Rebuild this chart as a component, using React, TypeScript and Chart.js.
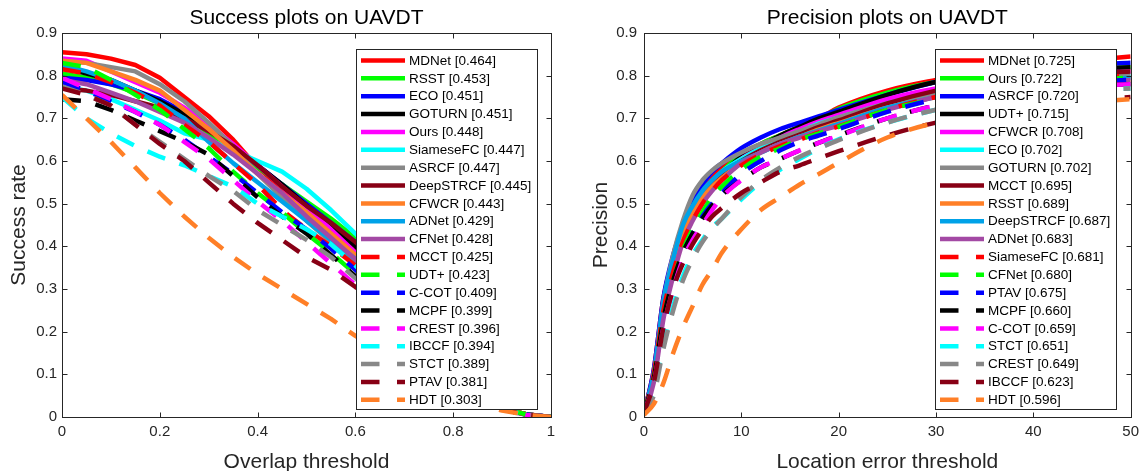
import React, { useEffect, useRef } from 'react';
import { Chart, registerables } from 'chart.js';

Chart.register(...registerables);
Chart.defaults.font.family = "'Liberation Sans', Arial, Helvetica, sans-serif";

// ---------------- Success plot data ----------------
const S_X = [0, 0.05, 0.1, 0.15, 0.2, 0.25, 0.3, 0.35, 0.4, 0.45, 0.5, 0.55, 0.6, 0.65, 0.7, 0.75, 0.8, 0.85, 0.9, 0.95, 1];
const S_XTICKS = [0, 0.2, 0.4, 0.6, 0.8, 1];
const S_XLABELS = ['0', '0.2', '0.4', '0.6', '0.8', '1'];
const YTICKS = [0, 0.1, 0.2, 0.3, 0.4, 0.5, 0.6, 0.7, 0.8, 0.9];
const YLABELS = ['0', '0.1', '0.2', '0.3', '0.4', '0.5', '0.6', '0.7', '0.8', '0.9'];

const S_NAMES = ['MDNet', 'RSST', 'ECO', 'GOTURN', 'Ours', 'SiameseFC', 'ASRCF', 'DeepSTRCF', 'CFWCR', 'ADNet', 'CFNet', 'MCCT', 'UDT+', 'C-COT', 'MCPF', 'CREST', 'IBCCF', 'STCT', 'PTAV', 'HDT'];
const S_SCORES = ['0.464', '0.453', '0.451', '0.451', '0.448', '0.447', '0.447', '0.445', '0.443', '0.429', '0.428', '0.425', '0.423', '0.409', '0.399', '0.396', '0.394', '0.389', '0.381', '0.303'];

const sMDNet = [0.855, 0.85, 0.84, 0.825, 0.795, 0.75, 0.705, 0.65, 0.585, 0.535, 0.485, 0.435, 0.39, 0.335, 0.275, 0.215, 0.155, 0.09, 0.02, 0.006, 0];
const sRSST = [0.805, 0.795, 0.78, 0.76, 0.735, 0.705, 0.665, 0.625, 0.585, 0.545, 0.505, 0.465, 0.42, 0.355, 0.295, 0.23, 0.16, 0.09, 0.02, 0.006, 0];
const sECO = [0.795, 0.79, 0.78, 0.765, 0.745, 0.715, 0.675, 0.635, 0.59, 0.545, 0.5, 0.455, 0.41, 0.355, 0.285, 0.22, 0.155, 0.085, 0.02, 0.006, 0];
const sGOTURN = [0.82, 0.805, 0.79, 0.765, 0.74, 0.71, 0.675, 0.635, 0.59, 0.545, 0.495, 0.445, 0.4, 0.345, 0.28, 0.215, 0.15, 0.085, 0.02, 0.006, 0];
const sOurs = [0.84, 0.835, 0.81, 0.785, 0.76, 0.725, 0.685, 0.64, 0.59, 0.54, 0.49, 0.44, 0.385, 0.32, 0.255, 0.19, 0.125, 0.065, 0.02, 0.006, 0];
const sSiameseFC = [0.775, 0.765, 0.745, 0.72, 0.695, 0.665, 0.65, 0.625, 0.6, 0.575, 0.535, 0.485, 0.43, 0.37, 0.29, 0.22, 0.15, 0.08, 0.02, 0.006, 0];
const sASRCF = [0.835, 0.83, 0.82, 0.81, 0.78, 0.74, 0.69, 0.635, 0.57, 0.515, 0.46, 0.41, 0.36, 0.305, 0.25, 0.195, 0.135, 0.08, 0.02, 0.006, 0];
const sDeepSTRCF = [0.77, 0.765, 0.755, 0.74, 0.725, 0.7, 0.67, 0.635, 0.59, 0.54, 0.495, 0.455, 0.41, 0.36, 0.3, 0.225, 0.155, 0.095, 0.02, 0.006, 0];
const sCFWCR = [0.835, 0.83, 0.81, 0.79, 0.765, 0.72, 0.675, 0.625, 0.57, 0.525, 0.48, 0.43, 0.38, 0.32, 0.26, 0.195, 0.13, 0.07, 0.02, 0.006, 0];
const sADNet = [0.825, 0.81, 0.79, 0.765, 0.735, 0.7, 0.645, 0.595, 0.55, 0.505, 0.46, 0.415, 0.37, 0.31, 0.245, 0.18, 0.115, 0.06, 0.018, 0.005, 0];
const sCFNet = [0.79, 0.78, 0.76, 0.74, 0.715, 0.69, 0.655, 0.615, 0.57, 0.525, 0.47, 0.42, 0.37, 0.315, 0.25, 0.185, 0.12, 0.065, 0.018, 0.005, 0];
const sMCCT = [0.815, 0.805, 0.785, 0.76, 0.73, 0.685, 0.645, 0.595, 0.545, 0.485, 0.44, 0.4, 0.355, 0.295, 0.24, 0.185, 0.125, 0.075, 0.02, 0.006, 0];
const sUDTp = [0.83, 0.82, 0.79, 0.755, 0.72, 0.675, 0.63, 0.575, 0.525, 0.48, 0.43, 0.385, 0.335, 0.29, 0.24, 0.19, 0.135, 0.08, 0.02, 0.006, 0];
const sCCOT = [0.785, 0.765, 0.74, 0.715, 0.685, 0.65, 0.61, 0.57, 0.525, 0.48, 0.44, 0.395, 0.345, 0.295, 0.24, 0.185, 0.125, 0.07, 0.02, 0.006, 0];
const sMCPF = [0.745, 0.74, 0.72, 0.695, 0.67, 0.645, 0.615, 0.565, 0.515, 0.47, 0.43, 0.38, 0.33, 0.28, 0.23, 0.175, 0.12, 0.065, 0.018, 0.005, 0];
const sCREST = [0.795, 0.77, 0.745, 0.715, 0.685, 0.645, 0.605, 0.555, 0.505, 0.46, 0.41, 0.36, 0.31, 0.26, 0.21, 0.16, 0.105, 0.06, 0.018, 0.005, 0];
const sIBCCF = [0.75, 0.7, 0.665, 0.635, 0.61, 0.59, 0.565, 0.54, 0.5, 0.47, 0.44, 0.405, 0.355, 0.3, 0.255, 0.195, 0.125, 0.07, 0.018, 0.005, 0];
const sSTCT = [0.775, 0.755, 0.73, 0.685, 0.645, 0.605, 0.565, 0.53, 0.485, 0.45, 0.415, 0.375, 0.325, 0.275, 0.225, 0.17, 0.115, 0.065, 0.018, 0.005, 0];
const sPTAV = [0.77, 0.755, 0.73, 0.685, 0.64, 0.6, 0.55, 0.5, 0.455, 0.415, 0.375, 0.345, 0.305, 0.26, 0.215, 0.165, 0.11, 0.06, 0.018, 0.005, 0];
const sHDT = [0.755, 0.7, 0.645, 0.585, 0.525, 0.47, 0.42, 0.375, 0.335, 0.3, 0.265, 0.23, 0.19, 0.155, 0.12, 0.085, 0.055, 0.03, 0.015, 0.005, 0];

const S_SERIES = [sMDNet, sRSST, sECO, sGOTURN, sOurs, sSiameseFC, sASRCF, sDeepSTRCF, sCFWCR, sADNet, sCFNet, sMCCT, sUDTp, sCCOT, sMCPF, sCREST, sIBCCF, sSTCT, sPTAV, sHDT];

// ---------------- Precision plot data ----------------
const P_X = [0, 1, 2, 3, 4, 5, 6, 7, 8, 10, 12, 14, 16, 18, 20, 25, 30, 35, 40, 45, 50];
const P_XTICKS = [0, 10, 20, 30, 40, 50];
const P_XLABELS = ['0', '10', '20', '30', '40', '50'];

const P_NAMES = ['MDNet', 'Ours', 'ASRCF', 'UDT+', 'CFWCR', 'ECO', 'GOTURN', 'MCCT', 'RSST', 'DeepSTRCF', 'ADNet', 'SiameseFC', 'CFNet', 'PTAV', 'MCPF', 'C-COT', 'STCT', 'CREST', 'IBCCF', 'HDT'];
const P_SCORES = ['0.725', '0.722', '0.720', '0.715', '0.708', '0.702', '0.702', '0.695', '0.689', '0.687', '0.683', '0.681', '0.680', '0.675', '0.660', '0.659', '0.651', '0.649', '0.623', '0.596'];

const pMDNet = [0.01, 0.11, 0.28, 0.37, 0.44, 0.49, 0.53, 0.56, 0.585, 0.615, 0.64, 0.66, 0.68, 0.7, 0.725, 0.765, 0.79, 0.81, 0.825, 0.835, 0.845];
const pOurs = [0.01, 0.09, 0.25, 0.35, 0.43, 0.48, 0.52, 0.55, 0.575, 0.615, 0.64, 0.66, 0.68, 0.7, 0.722, 0.76, 0.785, 0.8, 0.81, 0.815, 0.82];
const pASRCF = [0.01, 0.11, 0.28, 0.38, 0.45, 0.505, 0.545, 0.575, 0.595, 0.63, 0.655, 0.675, 0.69, 0.705, 0.72, 0.755, 0.785, 0.805, 0.815, 0.825, 0.83];
const pUDTp = [0.01, 0.09, 0.25, 0.35, 0.42, 0.475, 0.515, 0.545, 0.57, 0.61, 0.635, 0.66, 0.68, 0.7, 0.715, 0.755, 0.785, 0.8, 0.81, 0.815, 0.82];
const pCFWCR = [0.01, 0.09, 0.24, 0.34, 0.42, 0.47, 0.51, 0.545, 0.57, 0.605, 0.63, 0.655, 0.675, 0.693, 0.708, 0.745, 0.77, 0.785, 0.795, 0.805, 0.81];
const pECO = [0.01, 0.09, 0.25, 0.35, 0.43, 0.48, 0.52, 0.55, 0.575, 0.605, 0.63, 0.65, 0.668, 0.688, 0.702, 0.735, 0.76, 0.775, 0.785, 0.795, 0.8];
const pGOTURN = [0.01, 0.1, 0.27, 0.38, 0.46, 0.52, 0.555, 0.578, 0.595, 0.62, 0.64, 0.655, 0.67, 0.686, 0.702, 0.735, 0.76, 0.775, 0.785, 0.795, 0.8];
const pMCCT = [0.01, 0.09, 0.25, 0.36, 0.43, 0.48, 0.515, 0.545, 0.57, 0.6, 0.625, 0.645, 0.662, 0.68, 0.695, 0.735, 0.765, 0.785, 0.795, 0.805, 0.81];
const pRSST = [0.01, 0.09, 0.25, 0.36, 0.43, 0.48, 0.515, 0.54, 0.56, 0.595, 0.62, 0.64, 0.657, 0.674, 0.689, 0.725, 0.75, 0.765, 0.775, 0.785, 0.79];
const pDeepSTRCF = [0.01, 0.1, 0.27, 0.37, 0.45, 0.495, 0.53, 0.555, 0.575, 0.6, 0.62, 0.64, 0.657, 0.672, 0.687, 0.725, 0.75, 0.77, 0.78, 0.79, 0.795];
const pADNet = [0.01, 0.08, 0.23, 0.33, 0.41, 0.46, 0.5, 0.53, 0.555, 0.595, 0.62, 0.64, 0.655, 0.67, 0.683, 0.72, 0.75, 0.765, 0.775, 0.785, 0.79];
const pSiameseFC = [0.01, 0.1, 0.25, 0.34, 0.41, 0.46, 0.5, 0.53, 0.555, 0.59, 0.615, 0.635, 0.65, 0.667, 0.681, 0.72, 0.75, 0.77, 0.785, 0.795, 0.8];
const pCFNet = [0.01, 0.09, 0.23, 0.32, 0.39, 0.44, 0.48, 0.515, 0.54, 0.58, 0.61, 0.63, 0.65, 0.665, 0.68, 0.72, 0.745, 0.765, 0.78, 0.79, 0.795];
const pPTAV = [0.01, 0.08, 0.22, 0.31, 0.38, 0.43, 0.47, 0.5, 0.525, 0.57, 0.6, 0.625, 0.645, 0.66, 0.675, 0.715, 0.745, 0.765, 0.775, 0.785, 0.79];
const pMCPF = [0.01, 0.09, 0.23, 0.32, 0.385, 0.43, 0.465, 0.495, 0.52, 0.555, 0.585, 0.605, 0.625, 0.643, 0.66, 0.7, 0.73, 0.75, 0.765, 0.775, 0.78];
const pCCOT = [0.01, 0.08, 0.21, 0.3, 0.37, 0.415, 0.45, 0.485, 0.515, 0.555, 0.585, 0.605, 0.625, 0.643, 0.659, 0.7, 0.73, 0.75, 0.765, 0.775, 0.78];
const pSTCT = [0.01, 0.06, 0.17, 0.26, 0.33, 0.38, 0.415, 0.445, 0.465, 0.51, 0.55, 0.58, 0.605, 0.63, 0.651, 0.69, 0.72, 0.74, 0.755, 0.765, 0.77];
const pCREST = [0.01, 0.05, 0.16, 0.25, 0.32, 0.37, 0.41, 0.44, 0.465, 0.515, 0.555, 0.585, 0.61, 0.63, 0.649, 0.69, 0.72, 0.74, 0.755, 0.765, 0.77];
const pIBCCF = [0.01, 0.08, 0.21, 0.3, 0.36, 0.405, 0.44, 0.47, 0.49, 0.525, 0.55, 0.575, 0.59, 0.607, 0.623, 0.66, 0.69, 0.71, 0.725, 0.74, 0.75];
const pHDT = [0.005, 0.03, 0.08, 0.15, 0.21, 0.26, 0.31, 0.345, 0.385, 0.44, 0.485, 0.515, 0.545, 0.57, 0.596, 0.655, 0.69, 0.71, 0.725, 0.737, 0.745];

const P_SERIES = [pMDNet, pOurs, pASRCF, pUDTp, pCFWCR, pECO, pGOTURN, pMCCT, pRSST, pDeepSTRCF, pADNet, pSiameseFC, pCFNet, pPTAV, pMCPF, pCCOT, pSTCT, pCREST, pIBCCF, pHDT];

// ---------------- Styles (by rank) ----------------
const PALETTE = ['#ff0000', '#00ff00', '#0000ff', '#000000', '#ff00ff', '#00ffff', '#888888', '#880015', '#ff7f27', '#00a2e8', '#a349a4'];
const RANK_COLORS = [...PALETTE, ...PALETTE.slice(0, 9)];
const RANK_DASHED = RANK_COLORS.map((_, i) => i >= 11);

const AXIS_COLOR = '#262626';
const FONT = "'Liberation Sans', Arial, Helvetica, sans-serif";
const LINE_W = 4.5;
const DASH = [19, 15];

function axesBoxPlugin() {
  return {
    id: 'axesBox',
    afterDatasetsDraw(chart: any) {
      const { ctx, chartArea: a, scales } = chart;
      const L = Math.round(a.left) + 0.5;
      const R = Math.round(a.right) + 0.5;
      const T = Math.round(a.top) + 0.5;
      const B = Math.round(a.bottom) + 0.5;
      ctx.save();
      ctx.strokeStyle = AXIS_COLOR;
      ctx.lineWidth = 1;
      ctx.setLineDash([]);
      ctx.strokeRect(L, T, R - L, B - T);
      ctx.beginPath();
      for (const t of scales.x.ticks) {
        const px = Math.round(scales.x.getPixelForValue(t.value)) + 0.5;
        ctx.moveTo(px, B); ctx.lineTo(px, B - 5);
        ctx.moveTo(px, T); ctx.lineTo(px, T + 5);
      }
      for (const t of scales.y.ticks) {
        const py = Math.round(scales.y.getPixelForValue(t.value)) + 0.5;
        ctx.moveTo(L, py); ctx.lineTo(L + 5, py);
        ctx.moveTo(R, py); ctx.lineTo(R - 5, py);
      }
      ctx.stroke();
      ctx.restore();
    },
  };
}

function boxLegendPlugin(names: string[], scores: string[], insetRight: number) {
  return {
    id: 'boxLegend',
    afterDraw(chart: any) {
      const { ctx, chartArea: a } = chart;
      const w = 180.5;
      const h = 360.3;
      const x0 = Math.round(a.right - insetRight - w) + 0.5;
      const y0 = Math.round(a.top + 15.7) + 0.5;
      ctx.save();
      ctx.fillStyle = '#ffffff';
      ctx.fillRect(x0, y0, w, h);
      ctx.strokeStyle = AXIS_COLOR;
      ctx.lineWidth = 1;
      ctx.setLineDash([]);
      ctx.strokeRect(x0, y0, Math.round(w), Math.round(h));
      ctx.font = `13.5px ${FONT}`;
      ctx.textBaseline = 'middle';
      ctx.textAlign = 'left';
      for (let i = 0; i < names.length; i++) {
        const y = y0 + 11 + i * 17.86;
        ctx.strokeStyle = RANK_COLORS[i];
        ctx.lineWidth = LINE_W;
        ctx.lineCap = 'butt';
        ctx.beginPath();
        if (RANK_DASHED[i]) {
          ctx.moveTo(x0 + 4.5, y); ctx.lineTo(x0 + 23, y);
          ctx.moveTo(x0 + 40.5, y); ctx.lineTo(x0 + 48.5, y);
        } else {
          ctx.moveTo(x0 + 4.5, y); ctx.lineTo(x0 + 48.5, y);
        }
        ctx.stroke();
        ctx.fillStyle = '#000000';
        ctx.fillText(`${names[i]} [${scores[i]}]`, x0 + 52.5, y + 0.5);
      }
      ctx.restore();
    },
  };
}

type PlotSpec = {
  xs: number[];
  series: number[][];
  names: string[];
  scores: string[];
  xMax: number;
  xTicks: number[];
  xLabels: string[];
  title: string;
  xTitle: string;
  yTitle: string;
  yAxisWidth: number;
  yTitlePad: number;
  yTickPad: number;
  padRight: number;
  legendInset: number;
  smooth: boolean;
};

function buildConfig(spec: PlotSpec): any {
  const datasets = spec.series.map((vals, i) => ({
    label: spec.names[i],
    data: vals.map((v, j) => ({ x: spec.xs[j], y: v })),
    borderColor: RANK_COLORS[i],
    backgroundColor: RANK_COLORS[i],
    borderWidth: LINE_W,
    borderDash: RANK_DASHED[i] ? DASH : [],
    borderCapStyle: 'butt',
    borderJoinStyle: 'round',
    pointRadius: 0,
    fill: false,
    tension: 0,
    cubicInterpolationMode: spec.smooth ? 'monotone' : 'default',
    clip: 0,
    order: spec.series.length - i,
  }));
  return {
    type: 'line',
    data: { datasets },
    options: {
      responsive: false,
      maintainAspectRatio: false,
      animation: false,
      events: [],
      layout: { padding: { left: 0, right: spec.padRight, top: 0, bottom: 0 } },
      plugins: {
        legend: { display: false },
        tooltip: { enabled: false },
        title: {
          display: true,
          text: spec.title,
          color: '#000000',
          font: { size: 21, weight: 'normal', family: FONT },
          padding: { top: 6.1, bottom: 1.7 },
          fullSize: false,
        },
      },
      scales: {
        x: {
          type: 'linear',
          min: 0,
          max: spec.xMax,
          afterBuildTicks: (s: any) => { s.ticks = spec.xTicks.map((v) => ({ value: v })); },
          afterFit: (s: any) => { s.height = 54; },
          grid: { display: false, drawTicks: false },
          border: { display: false },
          ticks: {
            autoSkip: false,
            maxRotation: 0,
            padding: 6,
            color: AXIS_COLOR,
            font: { size: 15, family: FONT },
            callback: (_v: any, i: number) => spec.xLabels[i],
          },
          title: {
            display: true,
            text: spec.xTitle,
            color: AXIS_COLOR,
            font: { size: 21, family: FONT },
            padding: { top: 0, bottom: -4 },
          },
        },
        y: {
          type: 'linear',
          min: 0,
          max: 0.9,
          afterBuildTicks: (s: any) => { s.ticks = YTICKS.map((v) => ({ value: v })); },
          afterFit: (s: any) => { s.width = spec.yAxisWidth; },
          grid: { display: false, drawTicks: false },
          border: { display: false },
          ticks: {
            autoSkip: false,
            padding: spec.yTickPad,
            color: AXIS_COLOR,
            font: { size: 15, family: FONT },
            callback: (_v: any, i: number) => YLABELS[i],
          },
          title: {
            display: true,
            text: spec.yTitle,
            color: AXIS_COLOR,
            font: { size: 21, family: FONT },
            padding: { top: spec.yTitlePad, bottom: 0 },
          },
        },
      },
    },
    plugins: [axesBoxPlugin(), boxLegendPlugin(spec.names, spec.scores, spec.legendInset)],
  };
}

const SUCCESS_SPEC: PlotSpec = {
  xs: S_X,
  series: S_SERIES,
  names: S_NAMES,
  scores: S_SCORES,
  xMax: 1,
  xTicks: S_XTICKS,
  xLabels: S_XLABELS,
  title: 'Success plots on UAVDT',
  xTitle: 'Overlap threshold',
  yTitle: 'Success rate',
  yAxisWidth: 62,
  yTitlePad: 7,
  yTickPad: 5,
  padRight: 21,
  legendInset: 14.5,
  smooth: false,
};

const PRECISION_SPEC: PlotSpec = {
  xs: P_X,
  series: P_SERIES,
  names: P_NAMES,
  scores: P_SCORES,
  xMax: 50,
  xTicks: P_XTICKS,
  xLabels: P_XLABELS,
  title: 'Precision plots on UAVDT',
  xTitle: 'Location error threshold',
  yTitle: 'Precision',
  yAxisWidth: 72,
  yTitlePad: 17,
  yTickPad: 7,
  padRight: 11,
  legendInset: 15,
  smooth: true,
};

function Plot({ spec, left, width }: { spec: PlotSpec; left: number; width: number }) {
  const ref = useRef<HTMLCanvasElement>(null);
  useEffect(() => {
    if (!ref.current) return;
    const chart = new Chart(ref.current, buildConfig(spec));
    return () => chart.destroy();
  }, [spec]);
  return (
    <canvas
      ref={ref}
      width={width}
      height={471}
      style={{ position: 'absolute', left, top: 0, width, height: 471, display: 'block' }}
    />
  );
}

export default function App() {
  return (
    <div style={{ position: 'absolute', left: 0, top: 0, width: 1145, height: 471, background: '#ffffff', overflow: 'hidden' }}>
      <Plot spec={SUCCESS_SPEC} left={0} width={572} />
      <Plot spec={PRECISION_SPEC} left={572} width={573} />
    </div>
  );
}
